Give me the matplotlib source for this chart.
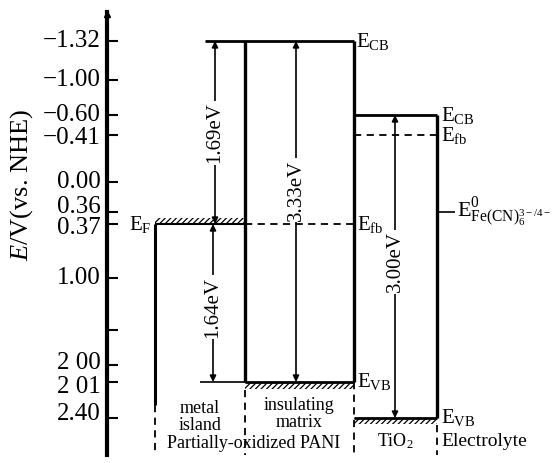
import numpy as np
import matplotlib.pyplot as plt
from matplotlib.transforms import offset_copy

plt.rcParams['font.family'] = 'Liberation Serif'
plt.rcParams['mathtext.fontset'] = 'custom'
plt.rcParams['mathtext.rm'] = 'Liberation Serif'
plt.rcParams['mathtext.it'] = 'Liberation Serif:italic'
plt.rcParams['hatch.linewidth'] = 0.9

# energy levels, V vs NHE
pani_cb = -1.32
pani_ef = 0.37
pani_vb = 2.01
tio2_cb = -0.60
tio2_fb = -0.41
tio2_vb = 2.40
redox = 0.36

tick_vals = [-1.32, -1.00, -0.60, -0.41, 0.00, 0.36, 0.37, 1.00, 2.00, 2.01, 2.40]
tick_text = ['−1.32', '−1.00', '−0.60', '−0.41', '0.00', '0.36', '0.37', '1.00', '2 00', '2 01', '2.40']
# labels that sit too close are nudged apart (pixels, down is positive)
tick_nudge = [0, 0, 0, 3, 0, -5, 4, 0, -2, 5, -4]

# the axis of the original is a schematic one, not linear:
# energy -> pixel row anchors
E_pts = [-12, -1.32, -1.00, -0.60, -0.41, 0.00, 0.36, 0.37, 1.00, 2.00, 2.01, 2.40, 14]
P_pts = [-1027, 41, 80, 115, 135, 182, 212, 224, 278, 365, 382, 418, 1578]


def fwd(e):
    return np.interp(e, E_pts, P_pts)


def inv(p):
    return np.interp(p, P_pts, E_pts)


fig = plt.figure(figsize=(5.6, 4.63), dpi=100)
ax = fig.add_axes([107/560, 8/463, 453/560, 443/463])
ax.set_yscale('function', functions=(fwd, inv))
ax.set_xlim(107, 560)
ax.set_ylim(inv(455), inv(12))

for s in ['top', 'right', 'bottom']:
    ax.spines[s].set_visible(False)
ax.spines['left'].set_linewidth(3)
ax.set_xticks([])
ax.set_yticks(tick_vals, [''] * len(tick_vals))
ax.set_yticks([1.6], minor=True)
ax.yaxis.set_minor_formatter(plt.NullFormatter())
ax.tick_params(axis='y', which='both', direction='in', length=8, width=1.5)
ax.plot([107], [inv(14)], marker='^', ms=5, color='k', clip_on=False)

ytr = ax.get_yaxis_transform()
for v, t, n in zip(tick_vals, tick_text, tick_nudge):
    tr = offset_copy(ytr, fig=fig, x=-6, y=-n, units='dots')
    ax.text(0, v, t, transform=tr, ha='right', va='center', fontsize=18,
            clip_on=False)

K = dict(color='k', solid_capstyle='butt', clip_on=False)
D = dict(color='k', ls=(0, (4, 3)), lw=1.3, clip_on=False)


def hatch(x0, x1, e, dp):
    ax.fill_between([x0, x1], e, inv(fwd(e) + dp), hatch='//////',
                    facecolor='none', edgecolor='k', linewidth=0)


x_metal, x_ins_l, x_ins_r, x_tio2_r = 155, 245, 354, 437
bottom = inv(455)

# PANI insulating matrix
ax.plot([205, x_ins_r], [pani_cb, pani_cb], lw=2, **K)
ax.plot([x_ins_l, x_ins_l], [pani_cb, pani_vb], lw=2.4, **K)
ax.plot([x_ins_r, x_ins_r], [pani_cb, pani_vb], lw=2.4, **K)
ax.plot([x_ins_l, x_ins_r], [pani_vb, pani_vb], lw=2, **K)
ax.plot([200, x_ins_l], [pani_vb, pani_vb], lw=1.2, **K)
hatch(x_ins_l, x_ins_r, pani_vb, 7)

# metal island
ax.plot([x_metal, x_metal], [pani_ef, inv(405)], lw=2.2, **K)
ax.plot([x_metal, x_ins_l], [pani_ef, pani_ef], lw=1.5, **K)
hatch(x_metal, x_ins_l, pani_ef, -6)
ax.plot([x_ins_l, x_ins_r], [pani_ef, pani_ef], **D)

# TiO2
ax.plot([x_ins_r, x_tio2_r], [tio2_cb, tio2_cb], lw=2, **K)
ax.plot([x_tio2_r, x_tio2_r], [tio2_cb, tio2_vb], lw=2.4, **K)
ax.plot([x_ins_r, x_tio2_r], [tio2_vb, tio2_vb], lw=2, **K)
hatch(x_ins_r, x_tio2_r, tio2_vb, 6)
ax.plot([x_ins_r, x_tio2_r], [tio2_fb, tio2_fb], **D)

# dashed separators
ax.plot([x_metal, x_metal], [inv(405), bottom], **D)
ax.plot([x_ins_l, x_ins_l], [inv(390), bottom], **D)
ax.plot([x_ins_r, x_ins_r], [pani_vb, bottom], **D)
ax.plot([x_tio2_r, x_tio2_r], [inv(425), bottom], **D)

# electrolyte redox level
ax.plot([x_tio2_r, 455], [redox, redox], lw=1.2, **K)
ax.text(457, redox, r'E$^{0}_{\mathrm{Fe(CN)}_{6}^{3-/4-}}$', fontsize=16,
        va='center', ha='left', clip_on=False)


def gap(x, e_top, e_bot, text_p):
    ax.annotate('', xy=(x, e_top), xytext=(x, e_bot),
                arrowprops=dict(arrowstyle='<|-|>', lw=1.2, color='k',
                                shrinkA=0, shrinkB=0, mutation_scale=9))
    ax.text(x, inv(text_p), f'{e_bot - e_top:.2f}eV', rotation=90,
            ha='center', va='center', fontsize=15,
            bbox=dict(fc='white', ec='none', pad=1))


gap(215, pani_cb, pani_ef, 133)
gap(213, pani_ef, pani_vb, 307)
gap(296, pani_cb, pani_vb, 190)
gap(395, tio2_cb, tio2_vb, 262)

# level labels
lab = dict(fontsize=15, va='center', clip_on=False)
ax.text(151, pani_ef, r'E$_{\rm F}$', ha='right', **lab)
ax.text(356, pani_cb, r'E$_{\rm CB}$', ha='left', **lab)
ax.text(357, pani_ef, r'E$_{\rm fb}$', ha='left', **lab)
ax.text(357, pani_vb, r'E$_{\rm VB}$', ha='left', **lab)
ax.text(441, tio2_cb, r'E$_{\rm CB}$', ha='left', **lab)
ax.text(441, tio2_fb, r'E$_{\rm fb}$', ha='left', **lab)
ax.text(441, tio2_vb, r'E$_{\rm VB}$', ha='left', **lab)

# region labels
reg = dict(fontsize=13, ha='center', va='center', linespacing=1.0, clip_on=False)
ax.text(200, inv(417), 'metal\nisland', **reg)
ax.text(299, inv(414), 'insulating\nmatrix', **reg)
ax.text(254, inv(443), 'Partially-oxidized PANI', **reg)
ax.text(395, inv(441), 'TiO$_2$', **reg)
ax.text(441, inv(442), 'Electrolyte', fontsize=14, ha='left', va='center', clip_on=False)

fig.text(22/560, 1 - 185/463, '$E$/V(vs. NHE)', rotation=90, va='center',
         ha='center', fontsize=19)

fig.savefig('out.png', dpi=100)
